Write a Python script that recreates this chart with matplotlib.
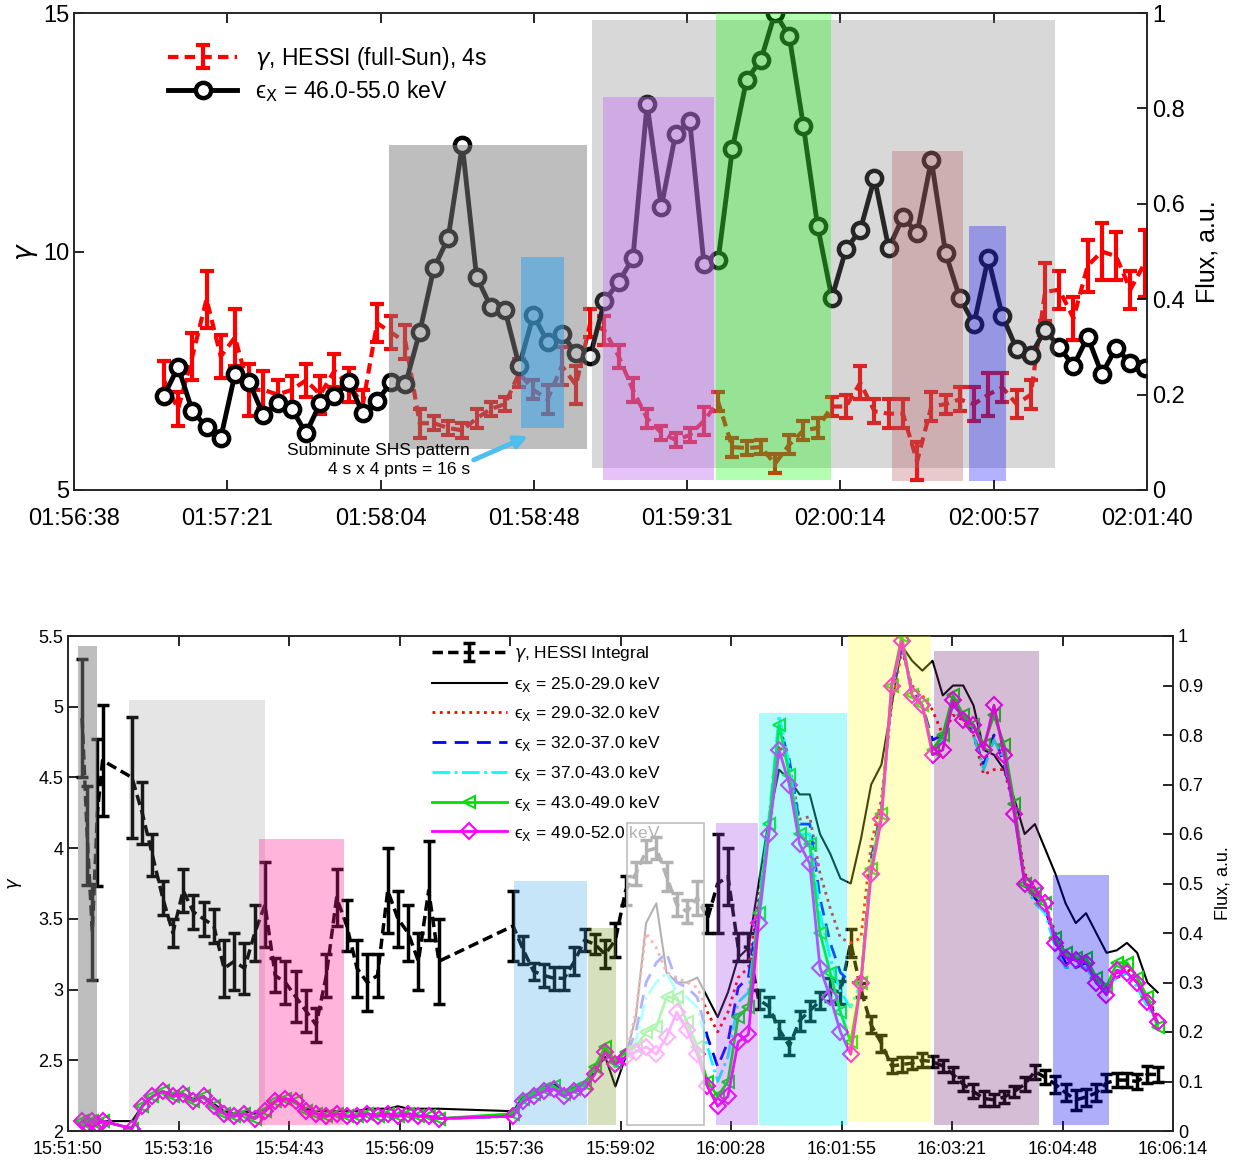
import numpy as np
import matplotlib
matplotlib.use("Agg")
import matplotlib.pyplot as plt
from matplotlib.patches import Rectangle
from matplotlib.ticker import FuncFormatter

plt.rcParams['font.family'] = ['Liberation Sans', 'DejaVu Sans']
plt.rcParams['mathtext.fontset'] = 'dejavusans'

# ---------------- top panel: seconds after 01:56:38, 4 s cadence ----------------
top_ticklabels = ['01:56:38', '01:57:21', '01:58:04', '01:58:48',
                  '01:59:31', '02:00:14', '02:00:57', '02:01:40']
top_span = 302.0
top_t0 = 25.3
top_flux = [0.197, 0.258, 0.166, 0.132, 0.109, 0.243, 0.226, 0.157, 0.182, 0.170,
            0.119, 0.182, 0.197, 0.226, 0.161, 0.187, 0.226, 0.222, 0.331, 0.465,
            0.528, 0.723, 0.447, 0.384, 0.377, 0.260, 0.367, 0.310, 0.327, 0.287,
            0.281, 0.396, 0.436, 0.486, 0.809, 0.593, 0.746, 0.774, 0.474, 0.482,
            0.715, 0.860, 0.901, 1.000, 0.952, 0.763, 0.553, 0.403, 0.505, 0.545,
            0.654, 0.507, 0.572, 0.539, 0.692, 0.497, 0.403, 0.348, 0.486, 0.365,
            0.296, 0.283, 0.335, 0.300, 0.260, 0.321, 0.243, 0.298, 0.266, 0.256]
top_gamma = [7.3, 6.7, 7.8, 9.0, 7.8, 8.2, 7.1, 7.1, 7.0, 7.1,
             7.3, 7.0, 7.5, 7.2, 6.8, 8.5, 8.3, 8.1, 6.4, 6.4,
             6.3, 6.25, 6.5, 6.7, 6.8, 7.45, 7.1, 6.9, 7.6, 7.2,
             8.5, 8.35, 7.8, 7.1, 6.5, 6.2, 6.05, 6.15, 6.45, 6.85,
             5.9, 5.88, 5.9, 5.55, 5.95, 6.25, 6.3, 6.75, 6.75, 7.25,
             6.65, 6.6, 6.6, 5.6, 6.75, 6.8, 6.9, 6.8, 7.0, 7.15,
             6.8, 7.0, 9.15, 9.2, 8.6, 9.7, 10.0, 9.9, 9.2, 9.75]
top_gamma_err = [0.4, 0.35, 0.5, 0.6, 0.45, 0.6, 0.55, 0.4, 0.3, 0.3,
                 0.35, 0.4, 0.35, 0.35, 0.3, 0.4, 0.35, 0.35, 0.3, 0.15,
                 0.15, 0.15, 0.2, 0.15, 0.15, 0.3, 0.2, 0.3, 0.4, 0.4,
                 0.3, 0.3, 0.25, 0.25, 0.2, 0.15, 0.15, 0.15, 0.3, 0.2,
                 0.2, 0.15, 0.15, 0.2, 0.2, 0.2, 0.2, 0.2, 0.25, 0.35,
                 0.25, 0.3, 0.3, 0.4, 0.3, 0.2, 0.25, 0.35, 0.45, 0.3,
                 0.3, 0.3, 0.6, 0.4, 0.45, 0.55, 0.6, 0.5, 0.4, 0.7]

# shaded intervals: (t start, t end, flux low, flux high, rgb, alpha)
top_boxes = [(88.7, 144.4, 0.086, 0.723, (127, 127, 127), 0.5),
             (145.8, 276.1, 0.046, 0.985, (127, 127, 127), 0.3),
             (125.8, 137.9, 0.13, 0.488, (39, 159, 239), 0.5),
             (148.9, 180.1, 0.021, 0.824, (192, 105, 242), 0.4),
             (180.7, 213.1, 0.021, 1.0, (0, 255, 0), 0.3),
             (230.2, 250.2, 0.019, 0.711, (180, 80, 90), 0.3),
             (251.9, 262.3, 0.019, 0.553, (0, 0, 255), 0.3)]

# ---------------- bottom panel: seconds after 15:51:50 ----------------
bot_ticklabels = ['15:51:50', '15:53:16', '15:54:43', '15:56:09', '15:57:36', '15:59:02',
                  '16:00:28', '16:01:55', '16:03:21', '16:04:48', '16:06:14']
bot_span = 864.0
t_seg1 = np.arange(11, 28, 4)
t_seg2 = np.arange(50, 291, 8)
t_seg3 = np.arange(348, 853, 8)

bot_gamma = [4.92, 4.09, 3.41, 4.25, 4.62,
             4.5, 4.25, 3.95, 3.65, 3.4, 3.7, 3.55, 3.5, 3.45, 3.15,
             3.2, 3.15, 3.4, 3.6, 3.1, 3.05, 2.95, 2.85, 2.75, 3.1,
             3.65, 3.45, 3.15, 3.05, 3.1, 3.7, 3.5, 3.4, 3.2, 3.7, 3.2,
             3.45, 3.28, 3.13, 3.1, 3.08, 3.08, 3.2, 3.35, 3.32, 3.25,
             3.35, 3.7, 3.82, 3.98, 4.0, 3.8, 3.6, 3.55, 3.65, 3.5,
             3.75, 3.8, 3.3, 3.3, 2.93, 2.88, 2.72, 2.6, 2.78, 2.85,
             2.92, 3.0, 2.98, 3.33, 3.0, 2.75, 2.62, 2.46, 2.47, 2.48,
             2.5, 2.49, 2.46, 2.4, 2.33, 2.28, 2.23, 2.22, 2.24, 2.28,
             2.33, 2.42, 2.38, 2.33, 2.27, 2.22, 2.24, 2.27, 2.34, 2.36,
             2.36, 2.35, 2.4, 2.4]
bot_gamma_err = [0.42, 0.35, 0.34, 0.52, 0.39,
                 0.43, 0.22, 0.15, 0.12, 0.1, 0.15, 0.12, 0.12, 0.12, 0.2,
                 0.2, 0.18, 0.2, 0.3, 0.12, 0.15, 0.18, 0.15, 0.12, 0.15,
                 0.2, 0.18, 0.2, 0.2, 0.15, 0.3, 0.2, 0.2, 0.2, 0.35, 0.3,
                 0.25, 0.1, 0.06, 0.08, 0.08, 0.08, 0.1, 0.08, 0.07, 0.1,
                 0.12, 0.1, 0.08, 0.08, 0.08, 0.1, 0.08, 0.08, 0.12, 0.1,
                 0.35, 0.2, 0.1, 0.1, 0.07, 0.07, 0.06, 0.06, 0.07, 0.07,
                 0.06, 0.08, 0.08, 0.1, 0.05, 0.06, 0.06, 0.05, 0.05, 0.04,
                 0.05, 0.04, 0.04, 0.05, 0.05, 0.05, 0.05, 0.04, 0.04, 0.04,
                 0.05, 0.05, 0.05, 0.06, 0.06, 0.07, 0.06, 0.06, 0.06, 0.05,
                 0.05, 0.05, 0.06, 0.05]

# pre-flare flux (first two segments), nearly identical in all bands
flux_pre = [0.02, 0.015, 0.02, 0.015, 0.02,
            0.005, 0.05, 0.07, 0.08, 0.07, 0.075, 0.06, 0.07, 0.05, 0.035,
            0.03, 0.035, 0.025, 0.04, 0.06, 0.065, 0.06, 0.04, 0.035, 0.03,
            0.035, 0.03, 0.03, 0.035, 0.03, 0.035, 0.03, 0.035, 0.03, 0.03, 0.025]
flux_pre_black = [0.02, 0.02, 0.02, 0.02, 0.02,
                  0.02, 0.05, 0.07, 0.08, 0.075, 0.075, 0.065, 0.07, 0.055, 0.04,
                  0.035, 0.04, 0.035, 0.045, 0.06, 0.065, 0.06, 0.045, 0.04, 0.04,
                  0.04, 0.04, 0.04, 0.045, 0.045, 0.045, 0.05, 0.045, 0.045, 0.045, 0.045]

flux_25_29 = [0.04, 0.07, 0.08, 0.09, 0.095, 0.08, 0.09, 0.1, 0.12, 0.15,
              0.09, 0.15, 0.23, 0.42, 0.46, 0.32, 0.3, 0.3, 0.31, 0.27,
              0.23, 0.28, 0.35, 0.37, 0.5, 0.63, 0.73, 0.71, 0.68, 0.68,
              0.6, 0.56, 0.51, 0.5, 0.59, 0.7, 0.74, 0.86, 0.98, 0.95,
              0.93, 0.95, 0.88, 0.9, 0.9, 0.86, 0.77, 0.76, 0.73, 0.67,
              0.6, 0.62, 0.57, 0.52, 0.46, 0.42, 0.44, 0.4, 0.36, 0.365,
              0.38, 0.36, 0.3, 0.28]
flux_29_32 = [0.03, 0.06, 0.07, 0.08, 0.085, 0.075, 0.08, 0.09, 0.12, 0.16,
              0.13, 0.15, 0.24, 0.4, 0.37, 0.32, 0.31, 0.3, 0.29, 0.24,
              0.2, 0.24, 0.31, 0.33, 0.47, 0.6, 0.78, 0.74, 0.63, 0.635,
              0.52, 0.45, 0.39, 0.38, 0.39, 0.58, 0.67, 0.86, 0.97, 0.9,
              0.88, 0.85, 0.8, 0.84, 0.83, 0.8, 0.72, 0.73, 0.73, 0.65,
              0.52, 0.49, 0.46, 0.4, 0.36, 0.35, 0.34, 0.31, 0.28, 0.32,
              0.33, 0.3, 0.27, 0.23]
flux_32_37 = [0.03, 0.06, 0.07, 0.08, 0.085, 0.075, 0.08, 0.09, 0.12, 0.16,
              0.13, 0.15, 0.2, 0.3, 0.34, 0.36, 0.3, 0.29, 0.27, 0.19,
              0.13, 0.18, 0.29, 0.31, 0.45, 0.62, 0.82, 0.75, 0.62, 0.62,
              0.47, 0.38, 0.32, 0.3, 0.3, 0.55, 0.65, 0.88, 0.98, 0.89,
              0.86, 0.79, 0.8, 0.86, 0.84, 0.8, 0.74, 0.8, 0.74, 0.65,
              0.5, 0.47, 0.45, 0.38, 0.34, 0.33, 0.34, 0.3, 0.28, 0.31,
              0.32, 0.3, 0.26, 0.23]
flux_37_43 = [0.03, 0.06, 0.07, 0.08, 0.085, 0.075, 0.08, 0.09, 0.12, 0.16,
              0.13, 0.15, 0.18, 0.27, 0.3, 0.32, 0.28, 0.27, 0.25, 0.17,
              0.1, 0.15, 0.26, 0.28, 0.44, 0.63, 0.84, 0.74, 0.6, 0.6,
              0.44, 0.35, 0.28, 0.25, 0.3, 0.54, 0.64, 0.89, 0.99, 0.88,
              0.86, 0.77, 0.79, 0.86, 0.84, 0.8, 0.73, 0.79, 0.75, 0.64,
              0.5, 0.46, 0.44, 0.37, 0.33, 0.33, 0.33, 0.3, 0.28, 0.31,
              0.32, 0.29, 0.25, 0.22]
flux_43_49 = [0.035, 0.065, 0.075, 0.085, 0.09, 0.075, 0.085, 0.095, 0.13, 0.17,
              0.14, 0.16, 0.17, 0.2, 0.21, 0.27, 0.27, 0.22, 0.17, 0.1,
              0.07, 0.1, 0.23, 0.25, 0.44, 0.62, 0.82, 0.72, 0.6, 0.58,
              0.4, 0.32, 0.24, 0.18, 0.3, 0.53, 0.64, 0.9, 1.0, 0.88,
              0.86, 0.77, 0.8, 0.88, 0.84, 0.82, 0.78, 0.84, 0.78, 0.66,
              0.5, 0.48, 0.46, 0.39, 0.36, 0.35, 0.35, 0.31, 0.29, 0.34,
              0.34, 0.31, 0.27, 0.21]
flux_49_52 = [0.03, 0.06, 0.07, 0.08, 0.085, 0.07, 0.08, 0.085, 0.115, 0.16,
              0.135, 0.15, 0.16, 0.17, 0.155, 0.19, 0.24, 0.205, 0.155, 0.09,
              0.05, 0.07, 0.18, 0.195, 0.42, 0.6, 0.77, 0.7, 0.58, 0.54,
              0.33, 0.27, 0.2, 0.155, 0.3, 0.52, 0.63, 0.9, 0.99, 0.88,
              0.86, 0.76, 0.77, 0.87, 0.83, 0.82, 0.77, 0.86, 0.76, 0.64,
              0.5, 0.49, 0.46, 0.38, 0.35, 0.345, 0.34, 0.3, 0.275, 0.325,
              0.32, 0.3, 0.26, 0.22]

bot_boxes = [(8.1, 22.7, 0.015, 0.98, (127, 127, 127), 0.5),
             (47.9, 154.0, 0.012, 0.87, (127, 127, 127), 0.2),
             (149.6, 215.8, 0.012, 0.589, (255, 30, 150), 0.33),
             (348.7, 405.6, 0.012, 0.506, (72, 172, 232), 0.3),
             (406.8, 428.5, 0.012, 0.41, (122, 155, 38), 0.3),
             (436.8, 497.3, 0.012, 0.622, (255, 255, 255), 0.7),
             (506.7, 539.3, 0.012, 0.622, (165, 72, 238), 0.3),
             (540.3, 608.8, 0.012, 0.845, (26, 242, 242), 0.35),
             (610.1, 674.8, 0.018, 1.0, (255, 255, 40), 0.28),
             (677.4, 759.5, 0.012, 0.97, (120, 38, 120), 0.3),
             (770.4, 814.2, 0.012, 0.518, (5, 5, 240), 0.32)]

EPS = '\u03f5$_{\\rm X}$'


def rgb(c):
    return tuple(v / 255 for v in c)


def add_boxes(ax, boxes, edge_for_white=False):
    for t0, t1, f0, f1, col, a in boxes:
        ec = 'none'
        if edge_for_white and col == (255, 255, 255):
            ec = (0.75, 0.75, 0.75)
        ax.add_patch(Rectangle((t0, f0), t1 - t0, f1 - f0, facecolor=rgb(col) + (a,),
                               edgecolor=ec, lw=1.2, zorder=10))


def style_axes(ax, ax2, size, xpad):
    for a in (ax, ax2):
        for s in a.spines.values():
            s.set_linewidth(1.2)
            s.set_color('#262626')
    ax.tick_params(axis='x', direction='in', top=True, length=7, width=1.2,
                   labelsize=size, pad=xpad)
    ax.tick_params(axis='y', direction='in', length=7, width=1.2, labelsize=size)
    ax2.tick_params(axis='y', direction='in', length=7, width=1.2, labelsize=size)
    fmt = FuncFormatter(lambda v, p: '%g' % v)
    ax.yaxis.set_major_formatter(fmt)
    ax2.yaxis.set_major_formatter(fmt)


fig = plt.figure(figsize=(12.45, 11.62), dpi=100)

# ---------------- top panel ----------------
ax = fig.add_axes([74 / 1245, 1 - 490 / 1162, 1073 / 1245, 477 / 1162])
ax2 = ax.twinx()
t_top = top_t0 + 4 * np.arange(len(top_flux))

eb = ax.errorbar(t_top, top_gamma, yerr=top_gamma_err, color='red', ls='--', lw=3,
                 dashes=(2.5, 1.5), elinewidth=3, capsize=5, capthick=3,
                 label=r'$\gamma$, HESSI (full-Sun), 4s')
ln, = ax2.plot(t_top, top_flux, '-o', color='black', lw=3.5, ms=11, mew=3.2,
               mfc='white', label=EPS + ' = 46.0-55.0 keV')
add_boxes(ax2, top_boxes)

ax.set_xlim(0, top_span)
ax.set_xticks(np.linspace(0, top_span, len(top_ticklabels)))
ax.set_xticklabels(top_ticklabels)
ax.set_ylim(5, 15)
ax.set_yticks([5, 10, 15])
ax2.set_ylim(0, 1)
ax2.set_yticks([0, 0.2, 0.4, 0.6, 0.8, 1])
style_axes(ax, ax2, 17, 13)
ax.set_ylabel(r'$\gamma$', fontsize=19, labelpad=2)
ax2.set_ylabel('Flux, a.u.', fontsize=18, labelpad=8)

ax2.legend([eb, ln], [eb.get_label(), ln.get_label()], loc='upper left',
           bbox_to_anchor=(0.075, 0.962), frameon=False, fontsize=16.5,
           handlelength=3.0, labelspacing=0.25, borderaxespad=0.2)

ax2.text(111.5, 0.063, 'Subminute SHS pattern\n4 s x 4 pnts = 16 s', ha='right',
         va='center', ma='right', fontsize=12.5, linespacing=1.3, zorder=12)
ax2.annotate('', xy=(127.8, 0.113), xytext=(112.5, 0.063), zorder=12,
             arrowprops=dict(arrowstyle='-|>', color='#4DBEEE', lw=3.5,
                             mutation_scale=18, shrinkA=0, shrinkB=0))

# ---------------- bottom panel ----------------
bx = fig.add_axes([68 / 1245, 1 - 1131 / 1162, 1105 / 1245, 495 / 1162])
bx2 = bx.twinx()
t_bot = np.concatenate([t_seg1, t_seg2, t_seg3])

geb = bx.errorbar(t_bot, bot_gamma, yerr=bot_gamma_err, color='black', ls='--', lw=2.5,
                  dashes=(3, 1.5), elinewidth=2.5, capsize=4, capthick=2.5,
                  label=r'$\gamma$, HESSI Integral')

bands = [(flux_pre_black + flux_25_29, '25.0-29.0', dict(color='black', lw=1.5)),
         (flux_pre + flux_29_32, '29.0-32.0', dict(color='red', ls=':', lw=2)),
         (flux_pre + flux_32_37, '32.0-37.0', dict(color='blue', ls='--', lw=2, dashes=(5, 3))),
         (flux_pre + flux_37_43, '37.0-43.0', dict(color='cyan', ls='-.', lw=2)),
         (flux_pre + flux_43_49, '43.0-49.0', dict(color='#00e000', lw=2, marker='<',
                                                    ms=9, mfc='none', mew=1.5)),
         (flux_pre + flux_49_52, '49.0-52.0', dict(color='magenta', lw=2, marker='D',
                                                    ms=8, mfc='none', mew=1.5))]
handles = [geb]
for vals, rng, kw in bands:
    h, = bx2.plot(t_bot, vals, label=EPS + ' = %s keV' % rng, **kw)
    handles.append(h)
add_boxes(bx2, bot_boxes, edge_for_white=True)

bx.set_xlim(0, bot_span)
bx.set_xticks(np.linspace(0, bot_span, len(bot_ticklabels)))
bx.set_xticklabels(bot_ticklabels)
bx.set_ylim(2, 5.5)
bx.set_yticks(np.arange(2, 5.51, 0.5))
bx2.set_ylim(0, 1)
bx2.set_yticks(np.arange(0, 1.01, 0.1))
style_axes(bx, bx2, 13, 7)
bx.set_ylabel(r'$\gamma$', fontsize=13, labelpad=10)
bx2.set_ylabel('Flux, a.u.', fontsize=13, labelpad=8)

bx.legend(handles, [h.get_label() for h in handles], loc='upper left',
          bbox_to_anchor=(0.32, 1.005), frameon=False, fontsize=12.5,
          handlelength=4.3, handletextpad=0.4, labelspacing=0.62, borderaxespad=0.2)

fig.savefig('out.png', dpi=100, facecolor='white')
